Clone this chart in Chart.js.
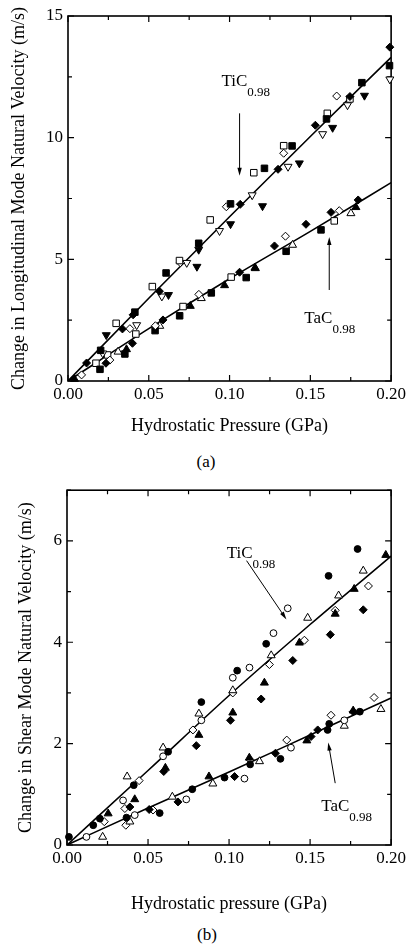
<!DOCTYPE html>
<html>
<head>
<meta charset="utf-8">
<script src="https://cdn.jsdelivr.net/npm/chart.js@4.4.1/dist/chart.umd.min.js"></script>
<style>
  body { margin: 0; background: #fff; }
  #wrap { position: relative; width: 409px; height: 948px; }
  canvas { position: absolute; left: 0; }
  .lab { position: absolute; font: 17px 'Liberation Serif', serif; color: #000; transform: translate(-50%, -50%); }
</style>
</head>
<body>
<div id="wrap">
  <canvas id="chart_a" width="409" height="440" style="top:0"></canvas>
  <div class="lab" style="left:206px; top:462px">(a)</div>
  <canvas id="chart_b" width="409" height="440" style="top:475px"></canvas>
  <div class="lab" style="left:207px; top:935px">(b)</div>
</div>
<script>
// ticks
const xMajor = [0, 0.05, 0.10, 0.15, 0.20]
const xMinor = [0.025, 0.075, 0.125, 0.175]
const yMajorA = [0, 5, 10, 15]
const yMinorA = [2.5, 7.5, 12.5]
const yMajorB = [0, 2, 4, 6]
const yMinorB = [1, 3, 5, 7]

// (a) longitudinal mode, TiC0.98  [pressure GPa, change m/s]
const a_tic_fillDiamond = [[0.0115,0.74],[0.0337,2.14],[0.0403,2.72],[0.0566,3.69],[0.1066,7.26],[0.130,8.70],[0.1531,10.51],[0.1745,11.69],[0.1992,13.72]]
const a_tic_fillSquare = [[0.0202,1.26],[0.0414,2.83],[0.0607,4.44],[0.0809,5.66],[0.1006,7.28],[0.1216,8.74],[0.1387,9.66],[0.160,10.77],[0.1819,12.26],[0.199,12.96]]
const a_tic_openSquare = [[0.0298,2.37],[0.0522,3.88],[0.069,4.95],[0.088,6.62],[0.115,8.56],[0.1335,9.67],[0.1605,11.0],[0.1745,11.59]]
const a_tic_openDiamond = [[0.0383,2.15],[0.0695,4.86],[0.098,7.16],[0.1335,9.36],[0.1663,11.71]]
const a_tic_fillDown = [[0.0237,1.89],[0.0622,3.54],[0.0798,4.70],[0.0809,5.40],[0.1006,6.45],[0.1204,7.19],[0.1432,8.95],[0.1638,10.41],[0.1835,11.73]]
const a_tic_openDown = [[0.0215,1.14],[0.0425,2.30],[0.0581,3.48],[0.0735,4.86],[0.0938,6.17],[0.114,7.64],[0.1362,8.81],[0.1576,10.15],[0.173,11.34],[0.1992,12.40]]
// (a) TaC0.98
const a_tac_fillDiamond = [[0.0235,0.73],[0.0399,1.55],[0.0588,2.51],[0.1062,4.47],[0.1278,5.55],[0.1473,6.44],[0.1628,6.93],[0.1796,7.44]]
const a_tac_openDiamond = [[0.0084,0.25],[0.0259,0.86],[0.0541,2.27],[0.081,3.56],[0.1346,5.95],[0.1679,7.00]]
const a_tac_fillSquare = [[0.0198,0.48],[0.0352,1.11],[0.0539,2.07],[0.0691,2.68],[0.0887,3.62],[0.1103,4.25],[0.135,5.33],[0.1566,6.21]]
const a_tac_openSquare = [[0.0173,0.73],[0.0245,1.07],[0.042,1.93],[0.0712,3.06],[0.101,4.27],[0.1648,6.58]]
const a_tac_fillTri = [[0.004,0.08],[0.0362,1.30],[0.0757,3.08],[0.0969,3.93],[0.1157,4.65],[0.1782,7.14]]
const a_tac_openTri = [[0.031,1.20],[0.0568,2.26],[0.0825,3.40],[0.116,4.63],[0.139,5.59],[0.1751,6.89]]
// (a) fitted lines
const a_tic_line = [[0,0],[0.05,3.4],[0.10,6.75],[0.15,10.05],[0.20,13.3]]
const a_tac_line = [[0,0],[0.05,2.15],[0.10,4.2],[0.15,6.15],[0.20,8.15]]

// (b) shear mode, TiC0.98
const b_tic_fillCircle = [[0.0012,0.16],[0.0162,0.39],[0.0203,0.52],[0.0412,1.18],[0.0624,1.84],[0.0829,2.82],[0.105,3.44],[0.1229,3.97],[0.1614,5.31],[0.1793,5.84]]
const b_tic_openCircle = [[0.012,0.16],[0.0346,0.88],[0.0593,1.75],[0.0829,2.46],[0.1023,3.30],[0.1126,3.50],[0.1274,4.18],[0.1362,4.67]]
const b_tic_fillTri = [[0.0254,0.62],[0.0418,0.90],[0.0607,1.52],[0.0814,2.17],[0.1023,2.61],[0.1218,3.20],[0.1434,3.99],[0.1655,4.56],[0.1772,5.05],[0.1967,5.72]]
const b_tic_openTri = [[0.022,0.16],[0.0371,1.35],[0.0593,1.92],[0.0814,2.59],[0.1023,3.05],[0.126,3.74],[0.1485,4.48],[0.1676,4.92],[0.1828,5.41]]
const b_tic_fillDiamond = [[0.0388,0.75],[0.0597,1.45],[0.0798,1.96],[0.1009,2.46],[0.1198,2.88],[0.1393,3.64],[0.1625,4.15],[0.1828,4.64]]
const b_tic_openDiamond = [[0.023,0.46],[0.0357,0.72],[0.0445,1.27],[0.0777,2.27],[0.1023,3.0],[0.1249,3.56],[0.1465,4.04],[0.1655,4.63],[0.186,5.11]]
// (b) TaC0.98
const b_tac_fillCircle = [[0.0367,0.54],[0.0572,0.63],[0.0773,1.10],[0.0972,1.33],[0.113,1.59],[0.1317,1.70],[0.1608,2.27],[0.1618,2.39],[0.1807,2.63]]
const b_tac_openCircle = [[0.0418,0.59],[0.0736,0.90],[0.1095,1.31],[0.1382,1.92],[0.1711,2.46]]
const b_tac_fillTri = [[0.0876,1.35],[0.1125,1.72],[0.148,2.06],[0.1766,2.65]]
const b_tac_openTri = [[0.0388,0.46],[0.065,0.95],[0.09,1.21],[0.1188,1.65],[0.1711,2.35],[0.1937,2.68]]
const b_tac_fillDiamond = [[0.0507,0.70],[0.0685,0.85],[0.1034,1.35],[0.1286,1.81],[0.1506,2.14],[0.1547,2.27],[0.1766,2.63]]
const b_tac_openDiamond = [[0.0363,0.39],[0.0531,0.69],[0.113,1.68],[0.1356,2.07],[0.1629,2.56],[0.1895,2.91]]
// (b) fitted lines
const b_tic_line = [[0,0],[0.05,1.47],[0.10,2.95],[0.15,4.35],[0.20,5.7]]
const b_tac_line = [[0,0],[0.05,0.73],[0.10,1.44],[0.15,2.17],[0.20,2.9]]

const FONT = "'Liberation Serif', 'Times New Roman', serif"

function pts(data, style, filled, rot) {
    const radius = {rect: 4.6, rectRot: 4, triangle: 4.6, circle: 3.4}[style]
    return {
        data: data.map(d => ({x: d[0], y: d[1]})),
        pointStyle: style,
        rotation: rot || 0,
        pointRadius: radius,
        backgroundColor: filled ? '#000' : '#fff',
        borderColor: '#000',
        borderWidth: 1,
        clip: false,
        order: 1,
    }
}

function fit(data) {
    return {
        data: data.map(d => ({x: d[0], y: d[1]})),
        showLine: true,
        pointRadius: 0,
        borderColor: '#000',
        borderWidth: 1.6,
        cubicInterpolationMode: 'monotone',
        order: 2,
    }
}

// inward ticks on all four sides + frame
const frameTicks = {
    id: 'frameTicks',
    beforeDatasetsDraw(chart, args, opts) {
        const {ctx, chartArea: a, scales: {x, y}} = chart
        ctx.save()
        ctx.strokeStyle = '#000'
        ctx.lineWidth = 1.2
        ctx.beginPath()
        const xt = (v, len) => {
            const px = x.getPixelForValue(v)
            ctx.moveTo(px, a.bottom); ctx.lineTo(px, a.bottom - len)
            ctx.moveTo(px, a.top); ctx.lineTo(px, a.top + len)
        }
        const yt = (v, len) => {
            const py = y.getPixelForValue(v)
            ctx.moveTo(a.left, py); ctx.lineTo(a.left + len, py)
            ctx.moveTo(a.right, py); ctx.lineTo(a.right - len, py)
        }
        xMajor.forEach(v => xt(v, 6))
        xMinor.forEach(v => xt(v, 4))
        opts.yMajor.forEach(v => yt(v, 6))
        opts.yMinor.forEach(v => yt(v, 4))
        ctx.stroke()
        ctx.lineWidth = 1.6
        ctx.strokeRect(a.left, a.top, a.right - a.left, a.bottom - a.top)
        ctx.restore()
    }
}

// material labels with arrows
const notes = {
    id: 'notes',
    afterDatasetsDraw(chart, args, opts) {
        const {ctx, scales: {x, y}} = chart
        ctx.save()
        ctx.fillStyle = '#000'
        ctx.strokeStyle = '#000'
        opts.items.forEach(n => {
            const tx = x.getPixelForValue(n.at[0]), ty = y.getPixelForValue(n.at[1])
            ctx.textBaseline = 'alphabetic'
            ctx.textAlign = 'left'
            ctx.font = '17px ' + FONT
            ctx.fillText(n.text, tx, ty)
            const w = ctx.measureText(n.text).width
            ctx.font = '13px ' + FONT
            ctx.fillText(n.sub, tx + w, ty + 10)
            const x0 = x.getPixelForValue(n.from[0]), y0 = y.getPixelForValue(n.from[1])
            const x1 = x.getPixelForValue(n.to[0]), y1 = y.getPixelForValue(n.to[1])
            const ang = Math.atan2(y1 - y0, x1 - x0)
            ctx.lineWidth = 1
            ctx.beginPath()
            ctx.moveTo(x0, y0)
            ctx.lineTo(x1 - 6 * Math.cos(ang), y1 - 6 * Math.sin(ang))
            ctx.stroke()
            ctx.beginPath()
            ctx.moveTo(x1, y1)
            ctx.lineTo(x1 - 8 * Math.cos(ang) + 2.2 * Math.sin(ang), y1 - 8 * Math.sin(ang) - 2.2 * Math.cos(ang))
            ctx.lineTo(x1 - 8 * Math.cos(ang) - 2.2 * Math.sin(ang), y1 - 8 * Math.sin(ang) + 2.2 * Math.cos(ang))
            ctx.closePath()
            ctx.fill()
        })
        ctx.restore()
    }
}

function make_graphic(id, cfg) {
    return new Chart(document.getElementById(id), {
        type: 'scatter',
        data: {datasets: cfg.datasets},
        plugins: [frameTicks, notes],
        options: {
            responsive: false,
            animation: false,
            events: [],
            layout: {padding: {left: 0, right: 409 - 392, top: cfg.top, bottom: 0}},
            plugins: {
                legend: {display: false},
                tooltip: {enabled: false},
                frameTicks: {yMajor: cfg.yMajor, yMinor: cfg.yMinor},
                notes: {items: cfg.notes},
            },
            scales: {
                x: {
                    type: 'linear',
                    min: 0,
                    max: 0.2,
                    afterBuildTicks: s => { s.ticks = xMajor.map(v => ({value: v})) },
                    afterFit: s => { s.height = cfg.xHeight },
                    grid: {display: false, drawTicks: false, tickLength: 0},
                    border: {display: false},
                    ticks: {
                        color: '#000',
                        font: {family: FONT, size: 17},
                        padding: 3,
                        maxRotation: 0,
                        autoSkip: false,
                        callback: v => Number(v).toFixed(2),
                    },
                    title: {
                        display: true,
                        text: cfg.xTitle,
                        color: '#000',
                        font: {family: FONT, size: 18},
                        padding: {top: 0, bottom: cfg.xTitlePad},
                    },
                },
                y: {
                    type: 'linear',
                    min: 0,
                    max: cfg.yMax,
                    afterBuildTicks: s => { s.ticks = cfg.yMajor.map(v => ({value: v})) },
                    afterFit: s => { s.width = cfg.yWidth },
                    grid: {display: false, drawTicks: false, tickLength: 0},
                    border: {display: false},
                    ticks: {
                        color: '#000',
                        font: {family: FONT, size: 17},
                        padding: 5,
                        autoSkip: false,
                        callback: v => String(v),
                    },
                    title: {
                        display: true,
                        text: cfg.yTitle,
                        color: '#000',
                        font: {family: FONT, size: 18},
                        padding: {top: cfg.yTitlePad, bottom: 0},
                    },
                },
            },
        },
    })
}

make_graphic('chart_a', {
    top: 16, xHeight: 440 - 381, yWidth: 68, yMax: 15,
    yMajor: yMajorA, yMinor: yMinorA,
    xTitle: 'Hydrostatic Pressure (GPa)', xTitlePad: 3,
    yTitle: 'Change in Longitudinal Mode Natural Velocity (m/s)', yTitlePad: 8,
    notes: [
        {text: 'TiC', sub: '0.98', at: [0.095, 12.12], from: [0.1062, 11.0], to: [0.1062, 8.43]},
        {text: 'TaC', sub: '0.98', at: [0.1463, 2.38], from: [0.1617, 3.74], to: [0.1617, 5.92]},
    ],
    datasets: [
        pts(a_tic_fillDiamond, 'rectRot', true),
        pts(a_tic_fillSquare, 'rect', true),
        pts(a_tic_openSquare, 'rect', false),
        pts(a_tic_openDiamond, 'rectRot', false),
        pts(a_tic_fillDown, 'triangle', true, 180),
        pts(a_tic_openDown, 'triangle', false, 180),
        pts(a_tac_fillDiamond, 'rectRot', true),
        pts(a_tac_openDiamond, 'rectRot', false),
        pts(a_tac_fillSquare, 'rect', true),
        pts(a_tac_openSquare, 'rect', false),
        pts(a_tac_fillTri, 'triangle', true),
        pts(a_tac_openTri, 'triangle', false),
        fit(a_tic_line),
        fit(a_tac_line),
    ],
})

make_graphic('chart_b', {
    top: 15, xHeight: 440 - 370, yWidth: 67, yMax: 7,
    yMajor: yMajorB, yMinor: yMinorB,
    xTitle: 'Hydrostatic pressure (GPa)', xTitlePad: 0,
    yTitle: 'Change in Shear Mode Natural Velocity (m/s)', yTitlePad: 15,
    notes: [
        {text: 'TiC', sub: '0.98', at: [0.0985, 5.67], from: [0.1108, 5.61], to: [0.1354, 4.45]},
        {text: 'TaC', sub: '0.98', at: [0.1569, 0.67], from: [0.1655, 1.22], to: [0.1612, 2.02]},
    ],
    datasets: [
        pts(b_tic_fillCircle, 'circle', true),
        pts(b_tic_openCircle, 'circle', false),
        pts(b_tic_fillTri, 'triangle', true),
        pts(b_tic_openTri, 'triangle', false),
        pts(b_tic_fillDiamond, 'rectRot', true),
        pts(b_tic_openDiamond, 'rectRot', false),
        pts(b_tac_fillCircle, 'circle', true),
        pts(b_tac_openCircle, 'circle', false),
        pts(b_tac_fillTri, 'triangle', true),
        pts(b_tac_openTri, 'triangle', false),
        pts(b_tac_fillDiamond, 'rectRot', true),
        pts(b_tac_openDiamond, 'rectRot', false),
        fit(b_tic_line),
        fit(b_tac_line),
    ],
})
</script>
</body>
</html>
